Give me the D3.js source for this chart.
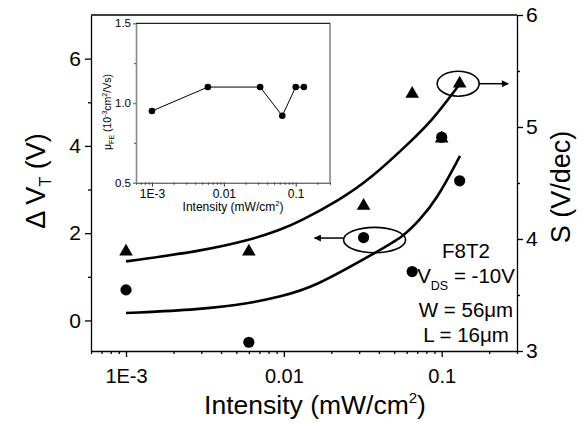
<!DOCTYPE html>
<html><head><meta charset="utf-8">
<script src="https://cdn.jsdelivr.net/npm/d3@7"></script>
<style>body{margin:0;background:#fff;} svg text{font-family:Arial,"Liberation Sans",sans-serif;fill:#000;}</style>
</head><body><svg id="c" width="585" height="423"></svg>
<script>
// ---- data ----
const intensity = [0.001, 0.006, 0.032, 0.065, 0.1, 0.13];
const deltaVT   = [0.7, -0.5, 1.9, 1.12, 4.2, 3.2];
const swingS    = [3.9, 3.9, 4.31, 5.31, 4.91, 5.4];
const mobility  = [0.95, 1.1, 1.1, 0.92, 1.1, 1.1];
// fitted guide curves
const fitSX = [0.001, 0.00294, 0.0061, 0.00944, 0.0126, 0.0226, 0.0349, 0.0625, 0.0873, 0.1294];
const fitSY = [3.80, 3.89, 3.99, 4.08, 4.155, 4.35, 4.53, 4.86, 5.06, 5.38];
const fitVX = [0.001, 0.00294, 0.0061, 0.00944, 0.0152, 0.0404, 0.0565, 0.0723, 0.0926, 0.1306];
const fitVY = [0.17, 0.25, 0.39, 0.55, 0.74, 1.61, 1.91, 2.30, 2.76, 3.77];
// ticks
const xMajorTicks = [0.001, 0.01, 0.1];
const xTickLabels = ["1E-3", "0.01", "0.1"];
const yLeftTicks = [0, 2, 4, 6];
const yLeftMinor = [1, 3, 5];
const yRightTicks = [3, 4, 5, 6];
const yRightMinor = [3.5, 4.5, 5.5];
const insetYTicks = [0.5, 1.0, 1.5];
const insetYMinor = [0.75, 1.25];
const annotLines = ["F8T2", "V_DS = -10V", "W = 56μm", "L = 16μm"];

// ---- layout ----
const svg = d3.select("#c");
const M = {l: 91, r: 517, t: 15, b: 351};
const x = d3.scaleLog().domain([6e-4, 0.3]).range([M.l, M.r]);
const yL = d3.scaleLinear().domain([-0.7, 7]).range([M.b, M.t]);
const yR = d3.scaleLinear().domain([3, 6]).range([M.b, M.t]);

const minorLog = [];
for (let e = -4; e <= -1; e++) for (let k = 2; k <= 9; k++) {
  const v = k * Math.pow(10, e);
  if (v >= 6e-4 - 1e-12 && v <= 0.3 + 1e-12) minorLog.push(v);
}

function styleAxis(g, size, color) {
  g.attr("font-family", null).attr("font-size", null);
  g.selectAll("path,line").attr("stroke", color || "#000").attr("stroke-width", 1.3);
  g.selectAll("text").attr("font-size", size).style("fill", "#000");
}

const defs = svg.append("defs");
defs.append("marker").attr("id", "ah").attr("viewBox", "0 0 10 10")
  .attr("refX", 9).attr("refY", 5).attr("markerWidth", 10).attr("markerHeight", 7)
  .attr("markerUnits", "userSpaceOnUse").attr("orient", "auto")
  .append("path").attr("d", "M0,0 L10,5 L0,10 z").attr("fill", "#000");

// ---- main axes ----
const gx = svg.append("g").attr("transform", `translate(0,${M.b})`)
  .call(d3.axisBottom(x).tickValues(xMajorTicks).tickFormat((d, i) => xTickLabels[i]).tickSize(6).tickSizeOuter(0).tickPadding(12));
styleAxis(gx, 20);
const gxm = svg.append("g").attr("transform", `translate(0,${M.b})`)
  .call(d3.axisBottom(x).tickValues(minorLog).tickFormat("").tickSize(3).tickSizeOuter(0));
gxm.select(".domain").remove(); styleAxis(gxm, 20);

const gyl = svg.append("g").attr("transform", `translate(${M.l},0)`)
  .call(d3.axisLeft(yL).tickValues(yLeftTicks).tickFormat(d3.format("d")).tickSize(6).tickSizeOuter(0).tickPadding(4));
styleAxis(gyl, 21);
const gylm = svg.append("g").attr("transform", `translate(${M.l},0)`)
  .call(d3.axisLeft(yL).tickValues(yLeftMinor).tickFormat("").tickSize(3).tickSizeOuter(0));
gylm.select(".domain").remove(); styleAxis(gylm, 21);

const gyr = svg.append("g").attr("transform", `translate(${M.r},0)`)
  .call(d3.axisRight(yR).tickValues(yRightTicks).tickFormat(d3.format("d")).tickSize(6).tickSizeOuter(0).tickPadding(3));
styleAxis(gyr, 21);
const gyrm = svg.append("g").attr("transform", `translate(${M.r},0)`)
  .call(d3.axisRight(yR).tickValues(yRightMinor).tickFormat("").tickSize(3).tickSizeOuter(0));
gyrm.select(".domain").remove(); styleAxis(gyrm, 21);

svg.append("line").attr("x1", M.l).attr("x2", M.r).attr("y1", M.t).attr("y2", M.t)
  .attr("stroke", "#000").attr("stroke-width", 1.3);

// axis titles
const xl = svg.append("text").attr("x", 315).attr("y", 414).attr("text-anchor", "middle").attr("font-size", 26.5);
xl.append("tspan").text("Intensity (mW/cm");
xl.append("tspan").attr("font-size", 15).attr("dy", -11).text("2");
xl.append("tspan").attr("dy", 11).text(")");

const ylt = svg.append("text").attr("transform", "translate(45,181) rotate(-90)").attr("text-anchor", "middle").attr("font-size", 27);
ylt.append("tspan").text("Δ V");
ylt.append("tspan").attr("font-size", 16).attr("dy", 6).text("T");
ylt.append("tspan").attr("dy", -6).text(" (V)");

svg.append("text").attr("transform", "translate(570,187) rotate(-90)").attr("text-anchor", "middle")
  .attr("font-size", 27).text("S (V/dec)");

// ---- fit curves ----
const lineS = d3.line().x(d => x(d[0])).y(d => yR(d[1])).curve(d3.curveBasis);
const lineV = d3.line().x(d => x(d[0])).y(d => yL(d[1])).curve(d3.curveBasis);
svg.append("path").datum(d3.zip(fitSX, fitSY)).attr("d", lineS)
  .attr("fill", "none").attr("stroke", "#000").attr("stroke-width", 2.6);
svg.append("path").datum(d3.zip(fitVX, fitVY)).attr("d", lineV)
  .attr("fill", "none").attr("stroke", "#000").attr("stroke-width", 2.6);

// ---- markers ----
const tri = d3.symbol().type(d3.symbolTriangle).size(80);
svg.append("g").selectAll("path").data(d3.zip(intensity, swingS)).join("path")
  .attr("d", tri).attr("transform", d => `translate(${x(d[0])},${yR(d[1]) + 1.5})`).attr("fill", "#000");
svg.append("g").selectAll("circle").data(d3.zip(intensity, deltaVT)).join("circle")
  .attr("cx", d => x(d[0])).attr("cy", d => yL(d[1])).attr("r", 5.6).attr("fill", "#000");

// ---- ellipses & arrows ----
const eTop = {cx: x(intensity[5]) - 1.5, cy: yR(swingS[5]) + 1.5, rx: 21, ry: 12.5};
svg.append("ellipse").attr("cx", eTop.cx).attr("cy", eTop.cy).attr("rx", eTop.rx).attr("ry", eTop.ry)
  .attr("fill", "none").attr("stroke", "#000").attr("stroke-width", 1.6);
svg.append("line").attr("x1", eTop.cx + eTop.rx).attr("x2", eTop.cx + eTop.rx + 29)
  .attr("y1", eTop.cy).attr("y2", eTop.cy).attr("stroke", "#000").attr("stroke-width", 1.5).attr("marker-end", "url(#ah)");

const eLow = {cx: x(intensity[2]) + 11, cy: yL(deltaVT[2]) + 2.5, rx: 31, ry: 12.7};
svg.append("ellipse").attr("cx", eLow.cx).attr("cy", eLow.cy).attr("rx", eLow.rx).attr("ry", eLow.ry)
  .attr("fill", "none").attr("stroke", "#000").attr("stroke-width", 1.6);
svg.append("line").attr("x1", eLow.cx - eLow.rx).attr("x2", eLow.cx - eLow.rx - 29)
  .attr("y1", eLow.cy - 2).attr("y2", eLow.cy - 2).attr("stroke", "#000").attr("stroke-width", 1.5).attr("marker-end", "url(#ah)");

// ---- annotation text ----
const ax = 466;
svg.append("text").attr("x", ax).attr("y", 258).attr("text-anchor", "middle").attr("font-size", 20.5).text(annotLines[0]);
const vds = svg.append("text").attr("x", ax).attr("y", 283).attr("text-anchor", "middle").attr("font-size", 20.5);
vds.append("tspan").text("V");
vds.append("tspan").attr("font-size", 12.5).attr("dy", 7).text("DS");
vds.append("tspan").attr("dy", -7).text(" = -10V");
svg.append("text").attr("x", ax).attr("y", 317).attr("text-anchor", "middle").attr("font-size", 20.5).text(annotLines[2]);
svg.append("text").attr("x", ax).attr("y", 342).attr("text-anchor", "middle").attr("font-size", 20.5).text(annotLines[3]);

// ---- inset ----
const I = {l: 136, r: 330, t: 23.3, b: 182.7};
const xi = d3.scaleLog().domain([6e-4, 0.3]).range([I.l, I.r]);
const yi = d3.scaleLinear().domain([0.5, 1.5]).range([I.b, I.t]);
svg.append("rect").attr("x", I.l).attr("y", I.t).attr("width", I.r - I.l).attr("height", I.b - I.t).attr("fill", "#fff");

const gxi = svg.append("g").attr("transform", `translate(0,${I.b})`)
  .call(d3.axisBottom(xi).tickValues(xMajorTicks).tickFormat((d, i) => xTickLabels[i]).tickSize(4).tickSizeOuter(0).tickPadding(3));
styleAxis(gxi, 12, "#333");
gxi.selectAll("path,line").attr("stroke-width", 1);
const gxim = svg.append("g").attr("transform", `translate(0,${I.b})`)
  .call(d3.axisBottom(xi).tickValues(minorLog).tickFormat("").tickSize(2).tickSizeOuter(0));
gxim.select(".domain").remove(); styleAxis(gxim, 12, "#333"); gxim.selectAll("line").attr("stroke-width", 1);

const gyi = svg.append("g").attr("transform", `translate(${I.l},0)`)
  .call(d3.axisLeft(yi).tickValues(insetYTicks).tickFormat(d3.format(".1f")).tickSize(3).tickSizeOuter(0).tickPadding(2));
styleAxis(gyi, 11.5, "#888");
gyi.selectAll("path,line").attr("stroke-width", 1.6);
const gyim = svg.append("g").attr("transform", `translate(${I.l},0)`)
  .call(d3.axisLeft(yi).tickValues(insetYMinor).tickFormat("").tickSize(2).tickSizeOuter(0));
gyim.select(".domain").remove(); styleAxis(gyim, 11.5, "#555"); gyim.selectAll("line").attr("stroke-width", 1);

svg.append("line").attr("x1", I.r).attr("x2", I.r).attr("y1", I.t).attr("y2", I.b).attr("stroke", "#888").attr("stroke-width", 1.6);
svg.append("line").attr("x1", I.l).attr("x2", I.r).attr("y1", I.t).attr("y2", I.t).attr("stroke", "#222").attr("stroke-width", 1.3);

const xil = svg.append("text").attr("x", 233).attr("y", 211).attr("text-anchor", "middle").attr("font-size", 12);
xil.append("tspan").text("Intensity (mW/cm");
xil.append("tspan").attr("font-size", 7.5).attr("dy", -5).text("2");
xil.append("tspan").attr("dy", 5).text(")");

const yil = svg.append("text").attr("transform", "translate(111,112) rotate(-90)").attr("text-anchor", "middle").attr("font-size", 10.5);
yil.append("tspan").text("μ");
yil.append("tspan").attr("font-size", 7).attr("dy", 3).text("FE");
yil.append("tspan").attr("dy", -3).text(" (10");
yil.append("tspan").attr("font-size", 7).attr("dy", -4).text("-3");
yil.append("tspan").attr("dy", 4).text("cm");
yil.append("tspan").attr("font-size", 7).attr("dy", -4).text("2");
yil.append("tspan").attr("dy", 4).text("/Vs)");

svg.append("path").datum(d3.zip(intensity, mobility))
  .attr("d", d3.line().x(d => xi(d[0])).y(d => yi(d[1])))
  .attr("fill", "none").attr("stroke", "#000").attr("stroke-width", 1);
svg.append("g").selectAll("circle").data(d3.zip(intensity, mobility)).join("circle")
  .attr("cx", d => xi(d[0])).attr("cy", d => yi(d[1])).attr("r", 3.3).attr("fill", "#000");
</script></body></html>
